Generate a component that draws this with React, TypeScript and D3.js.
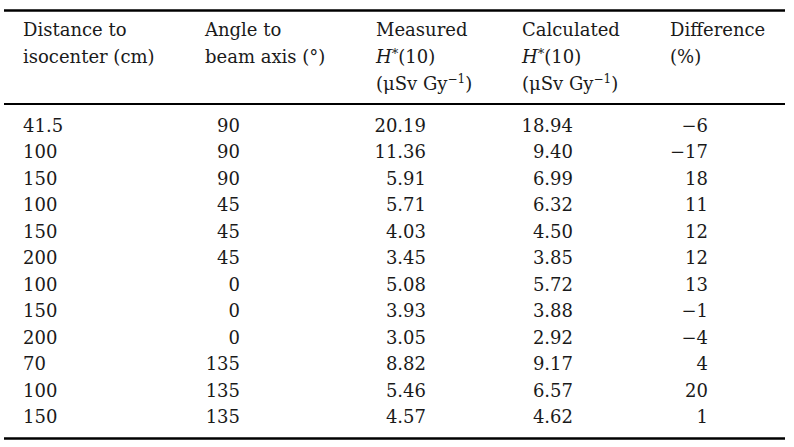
import React from 'react';
import * as d3 from 'd3';

// table values
const distances = ['41.5', '100', '150', '100', '150', '200', '100', '150', '200', '70', '100', '150'];
const angles = ['90', '90', '90', '45', '45', '45', '0', '0', '0', '135', '135', '135'];
const measured = ['20.19', '11.36', '5.91', '5.71', '4.03', '3.45', '5.08', '3.93', '3.05', '8.82', '5.46', '4.57'];
const calculated = ['18.94', '9.40', '6.99', '6.32', '4.50', '3.85', '5.72', '3.88', '2.92', '9.17', '6.57', '4.62'];
const difference = ['\u22126', '\u221217', '18', '11', '12', '12', '13', '\u22121', '\u22124', '4', '20', '1'];

const columns = [distances, angles, measured, calculated, difference];

const width = 794;
const height = 447;
const font = '"DejaVu Serif", serif';
const fontSize = 18;
const ink = '#1a1a1a';

// layout: left edge of each header, anchor of each data column
const headerX = [23, 205, 376, 522, 670];
const cellX = [23, 240, 426, 573, 708];
const cellAnchor = ['start', 'end', 'end', 'end', 'end'];

export default function App() {
  const rowIdx = d3.range(distances.length);
  const yScale = d3.scaleBand<number>().domain(rowIdx).range([113, 113 + 26.45 * rowIdx.length]);
  const headBase = d3.scaleLinear().domain([0, 2]).range([36, 90]);

  const H = (x: number, y: number) => (
    <text x={x} y={y}>
      <tspan fontStyle="italic">H</tspan>
      <tspan dy={-5} fontSize={13}>*</tspan>
      <tspan dy={5}>(10)</tspan>
    </text>
  );
  const unit = (x: number, y: number) => (
    <text x={x} y={y}>
      (μSv Gy
      <tspan dy={-7} fontSize={12}>{'\u22121'}</tspan>
      <tspan dy={7}>)</tspan>
    </text>
  );

  return (
    <svg width={width} height={height} style={{ position: 'absolute', left: 0, top: 0, background: '#fff' }}
      fontFamily={font} fontSize={fontSize} fill={ink}>
      <line x1={4} x2={785} y1={10.5} y2={10.5} stroke="#000" strokeWidth={2.6} />
      <line x1={4} x2={785} y1={104} y2={104} stroke="#000" strokeWidth={2.2} />
      <line x1={4} x2={785} y1={438.5} y2={438.5} stroke="#000" strokeWidth={2.6} />

      <text x={headerX[0]} y={headBase(0)}>Distance to</text>
      <text x={headerX[0]} y={headBase(1)}>isocenter (cm)</text>
      <text x={headerX[1]} y={headBase(0)}>Angle to</text>
      <text x={headerX[1]} y={headBase(1)}>beam axis (°)</text>
      <text x={headerX[2]} y={headBase(0)}>Measured</text>
      {H(headerX[2], headBase(1))}
      {unit(headerX[2], headBase(2))}
      <text x={headerX[3]} y={headBase(0)}>Calculated</text>
      {H(headerX[3], headBase(1))}
      {unit(headerX[3], headBase(2))}
      <text x={headerX[4]} y={headBase(0)}>Difference</text>
      <text x={headerX[4]} y={headBase(1)}>(%)</text>

      {columns.map((col, c) => (
        <g key={c} textAnchor={cellAnchor[c]}>
          {col.map((v, i) => (
            <text key={i} x={cellX[c]} y={(yScale(i) as number) + 19}>{v}</text>
          ))}
        </g>
      ))}
    </svg>
  );
}
